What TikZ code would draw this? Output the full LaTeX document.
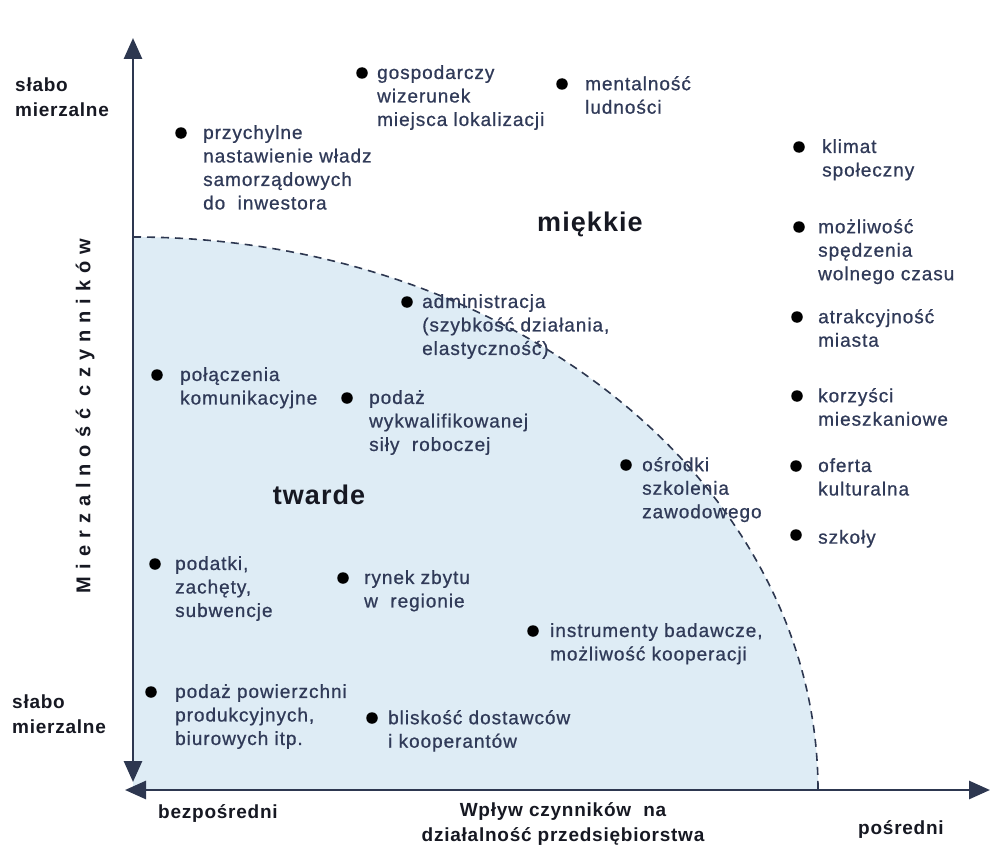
\documentclass[tikz,border=0pt]{standalone}
\usepackage{fontspec}
\setmainfont{Liberation Sans}
\newfontfamily\itemfam[LetterSpace=5,FakeBold=0.8]{Liberation Sans}
\newfontfamily\headfam[LetterSpace=4]{Liberation Sans}
\newfontfamily\axisfam[LetterSpace=35]{Liberation Sans}
\usetikzlibrary{arrows.meta,positioning}
\definecolor{ink}{RGB}{48,58,88}
\definecolor{axisc}{RGB}{45,55,80}
\definecolor{soft}{RGB}{222,236,245}
\definecolor{headc}{RGB}{22,24,34}

\begin{document}
\begin{tikzpicture}[x=1pt,y=-1pt,
  dot/.style={circle, fill=black, inner sep=0pt, minimum size=11.5pt},
  factor/.style={anchor=north west, inner sep=0pt, align=left, text=ink,
    font=\itemfam\fontsize{19}{23.5}\selectfont, yshift=8pt,
    execute at begin node=\strut},
  headlbl/.style={inner sep=0pt, align=left, text=headc,
    font=\headfam\bfseries\fontsize{19}{25}\selectfont},
  bigword/.style={inner sep=0pt, anchor=base, text=headc,
    font=\headfam\bfseries\fontsize{27}{30}\selectfont},
  axisline/.style={line width=2.8pt, draw=axisc,
    {Triangle[width=18pt,length=21pt]}-{Triangle[width=18pt,length=21pt]}},
  zoneedge/.style={draw=axisc, line width=1.6pt, dash pattern=on 8pt off 6pt}]

\useasboundingbox (0,0) rectangle (991,851);

\coordinate (O) at (133,790);
\coordinate (Ytop) at (133,38);
\coordinate (Ybot) at (133,782);
\coordinate (Xleft) at (125,790);
\coordinate (Xright) at (990,790);
\coordinate (Ztop) at (133,237);

\fill[soft] (O) -- (Ztop) arc[start angle=-90, end angle=0, x radius=685, y radius=553] -- cycle;
\draw[zoneedge] (Ztop) arc[start angle=-90, end angle=0, x radius=685, y radius=553];

\draw[axisline] (Ybot) -- (Ytop);
\draw[axisline] (Xleft) -- (Xright);

\foreach \i/\bx/\by/\tx/\txt in {
  1/181/133/203/{przychylne\\nastawienie władz\\samorządowych\\do\ \ inwestora},
  2/362/73/377/{gospodarczy\\wizerunek\\miejsca lokalizacji},
  3/562/84/585/{mentalność\\ludności},
  4/799/147/822/{klimat\\społeczny},
  5/799/227/818/{możliwość\\spędzenia\\wolnego czasu},
  6/797/317/818/{atrakcyjność\\miasta},
  7/797/396/818/{korzyści\\mieszkaniowe},
  8/796/466/818/{oferta\\kulturalna},
  9/796/535/818/{szkoły},
  10/407/302/422/{administracja\\(szybkość działania,\\elastyczność)},
  11/157/375/180/{połączenia\\komunikacyjne},
  12/347/398/369/{podaż\\wykwalifikowanej\\siły\ \ roboczej},
  13/626/465/642/{ośrodki\\szkolenia\\zawodowego},
  14/155/564/175/{podatki,\\zachęty,\\subwencje},
  15/343/578/364/{rynek zbytu\\w\ \ regionie},
  16/533/631/550/{instrumenty badawcze,\\możliwość kooperacji},
  17/151/692/175/{podaż powierzchni\\produkcyjnych,\\biurowych itp.},
  18/372/718/388/{bliskość dostawców\\i kooperantów}} {
  \node[dot] (d\i) at (\bx,\by) {};
  \node[factor] (t\i) at (\tx,\by) {\txt};
}

\node[bigword] (soft) at (590,231) {miękkie};
\node[bigword] (hard) at (319,504) {twarde};

\node[headlbl, anchor=north west, yshift=10pt, execute at begin node=\strut] (weaktop) at (15,88) {słabo\\mierzalne};
\node[headlbl, anchor=north west, yshift=10pt, execute at begin node=\strut] (weakbot) at (12,705) {słabo\\mierzalne};
\node[headlbl, anchor=base west] (direct) at (158,818) {bezpośredni};
\node[headlbl, anchor=base west] (indirect) at (858,834) {pośredni};
\node[headlbl, align=center, anchor=north, yshift=10pt, execute at begin node=\strut] (xlabel) at (563,812) {Wpływ czynników\ \ na\\działalność przedsiębiorstwa};
\node[inner sep=0pt, rotate=90, text=headc, font=\axisfam\bfseries\fontsize{20}{24}\selectfont] (ylabel) at (85,416) {Mierzalność czynników};

\end{tikzpicture}
\end{document}
